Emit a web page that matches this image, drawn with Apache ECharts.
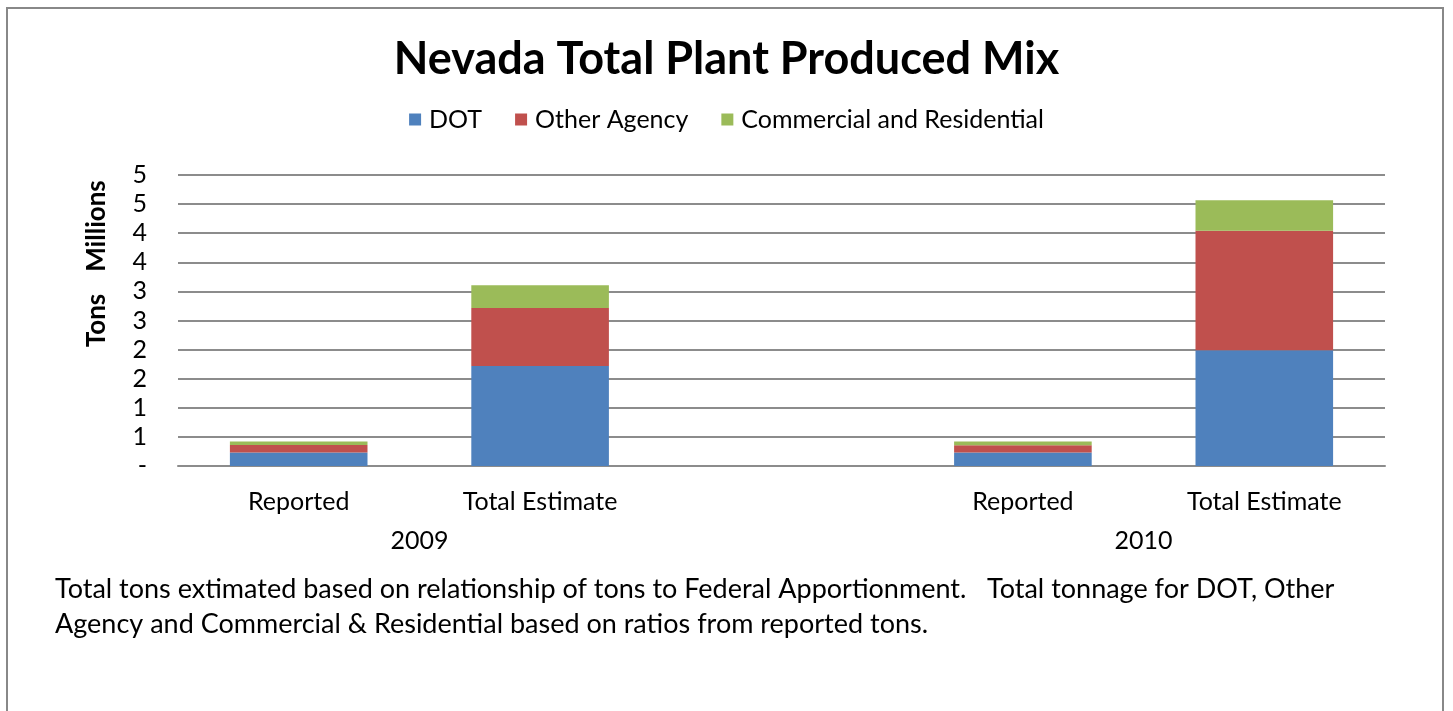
<!DOCTYPE html>
<html><head><meta charset="utf-8">
<script src="https://cdn.jsdelivr.net/npm/echarts@6/dist/echarts.min.js"></script>
<style>html,body{margin:0;padding:0;background:#fff}#c{width:1453px;height:711px}</style>
</head><body><div id="c"></div>
<script>
const categories = ['Reported', 'Total Estimate', '', 'Reported', 'Total Estimate'];
const years = ['2009', '2010'];
const yearPositions = [1, 4]; // boundary between the two bars of each year group
const seriesNames = ['DOT', 'Other Agency', 'Commercial and Residential'];
const dot = [0.23, 1.72, null, 0.23, 1.99];
const otherAgency = [0.13, 0.995, null, 0.125, 2.05];
const commercial = [0.06, 0.39, null, 0.065, 0.525];
const yTicks = [0, 0.5, 1, 1.5, 2, 2.5, 3, 3.5, 4, 4.5, 5];
const footnote = ['Total tons extimated based on relationship of tons to Federal Apportionment.   Total tonnage for DOT, Other',
                  'Agency and Commercial & Residential based on ratios from reported tons.'];

const FONT = 'Lato, "Open Sans", sans-serif';
const chart = echarts.init(document.getElementById('c'), null, {renderer: 'canvas'});
const colors = ['#4F81BD', '#C0504D', '#9BBB59'];
const vals = [dot, otherAgency, commercial];

chart.setOption({
  animation: false,
  textStyle: {fontFamily: FONT, color: '#000'},
  title: {
    text: 'Nevada Total Plant Produced Mix', left: 'center', top: 32,
    textStyle: {fontFamily: FONT, fontSize: 45, fontWeight: 'bold', color: '#000'}
  },
  legend: {
    top: 102, left: 'center', itemWidth: 12, itemHeight: 12, itemGap: 33, icon: 'rect',
    textStyle: {fontFamily: FONT, fontSize: 25, color: '#000', padding: [0, 0, 0, 3]},
    data: seriesNames
  },
  grid: {left: 178, right: 68, top: 175, bottom: 245, containLabel: false},
  xAxis: [{
    type: 'category', data: categories,
    axisLine: {lineStyle: {color: '#8c8c8c', width: 2}},
    axisTick: {show: false},
    axisLabel: {fontFamily: FONT, fontSize: 25, color: '#000', margin: 23, interval: 0}
  }, {
    type: 'value', min: 0, max: categories.length, interval: 1, position: 'bottom', offset: 62,
    axisLine: {show: false}, axisTick: {show: false}, splitLine: {show: false},
    axisLabel: {fontFamily: FONT, fontSize: 25, color: '#000', margin: 0,
      formatter: v => { const i = yearPositions.indexOf(v); return i >= 0 ? years[i] : ''; }}
  }],
  yAxis: {
    type: 'value', min: yTicks[0], max: yTicks[yTicks.length - 1], interval: 0.5,
    name: 'Tons', nameLocation: 'middle', nameGap: 68, nameRotate: 90,
    nameTextStyle: {fontFamily: FONT, fontSize: 26, fontWeight: 'bold', color: '#000'},
    axisLine: {show: false}, axisTick: {show: false},
    axisLabel: {fontFamily: FONT, fontSize: 25, color: '#000', margin: 31,
      formatter: v => v === 0 ? '-' : String(Math.round(v))},
    splitLine: {lineStyle: {color: '#8c8c8c', width: 2}}
  },
  series: seriesNames.map((n, i) => ({
    name: n, type: 'bar', stack: 'total', data: vals[i], xAxisIndex: 0,
    barWidth: '57%', itemStyle: {color: colors[i]}
  })),
  graphic: [
    {type: 'rect', shape: {x: 7, y: 8, width: 1436, height: 720}, style: {fill: null, stroke: '#888', lineWidth: 2}, silent: true},
    {type: 'text', x: 97, y: 226, rotation: Math.PI / 2,
      style: {text: 'Millions', fontFamily: FONT, fontSize: 26, fontWeight: 'bold', fill: '#000', align: 'center', verticalAlign: 'middle'}},
    {type: 'text', left: 55, top: 572,
      style: {text: footnote.join('\n'), fontFamily: FONT, fontSize: 27, lineHeight: 35, fill: '#000'}}
  ]
});
</script></body></html>
